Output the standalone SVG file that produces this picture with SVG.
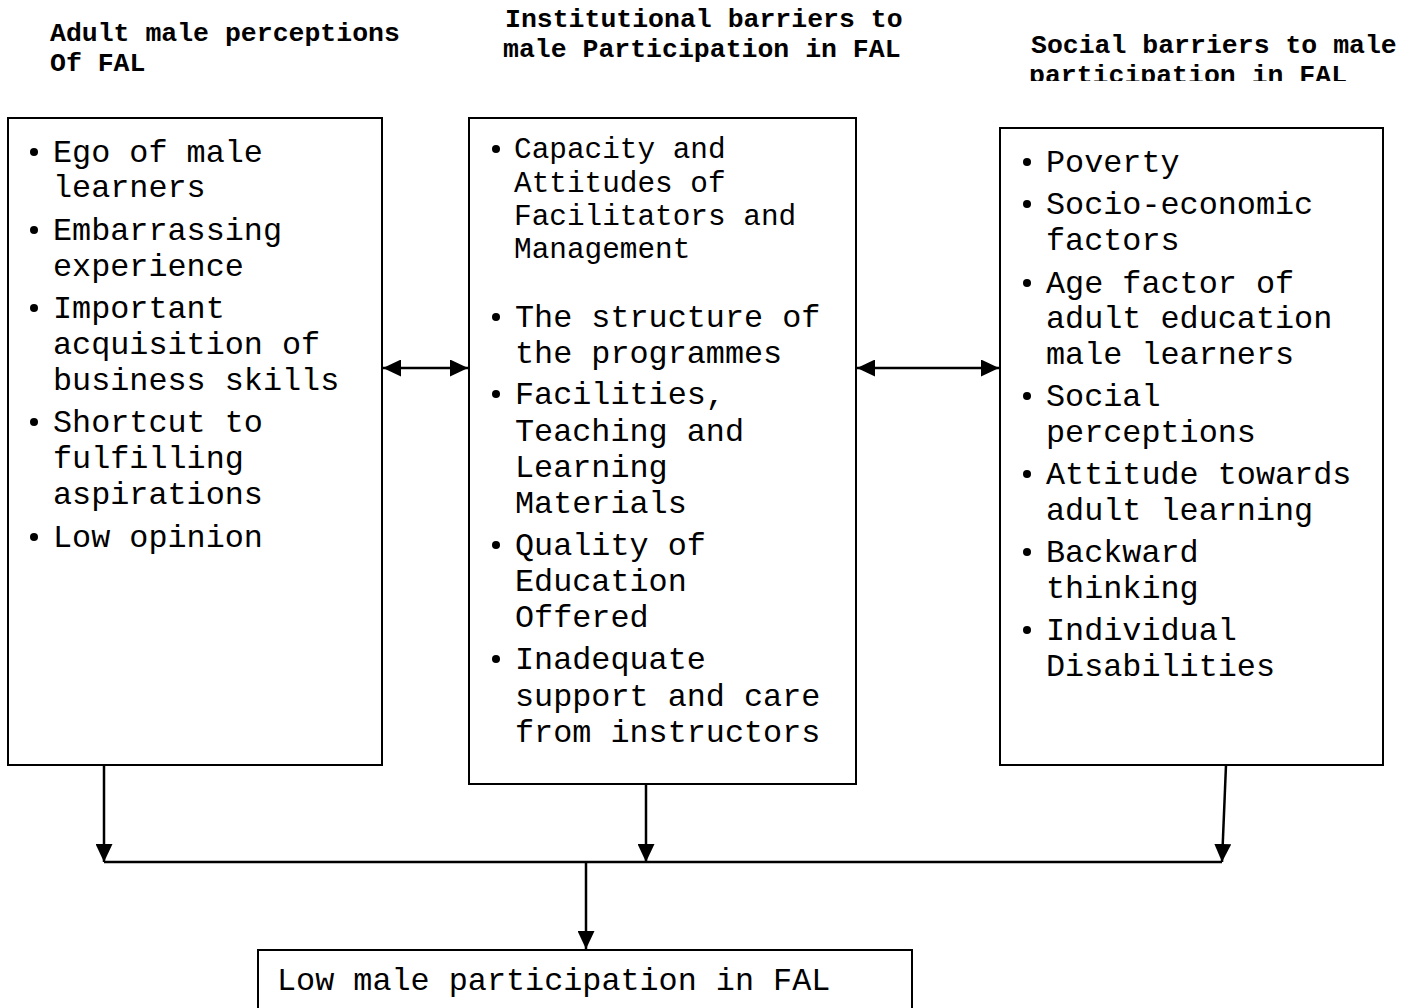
<svg xmlns="http://www.w3.org/2000/svg" width="1412" height="1008" viewBox="0 0 1412 1008">
<style>
.box{fill:#fff;stroke:#000;stroke-width:2}
.hd{font-family:"Courier New","Liberation Mono",monospace;font-weight:bold;font-size:26.5px;fill:#000}
.tx{font-family:"Courier New","Liberation Mono",monospace;font-size:31.8px;fill:#000}
.tx2{font-family:"Courier New","Liberation Mono",monospace;font-size:29.4px;fill:#000}
.bl{fill:#000}
.ln{fill:none;stroke:#000;stroke-width:2.5}
</style>
<defs>
<marker id="ah" viewBox="0 0 18 17" refX="18" refY="8.5" markerWidth="18" markerHeight="17" markerUnits="userSpaceOnUse" orient="auto-start-reverse">
<path d="M0,0 L18,8.5 L0,17 z" fill="#000"/>
</marker>
<clipPath id="clip3"><rect x="1000" y="0" width="412" height="81"/></clipPath>
</defs>
<rect width="1412" height="1008" fill="#fff"/>

<g id="header1">
<text class="hd" x="50" y="41">Adult male perceptions</text>
<text class="hd" x="50" y="71">Of FAL</text>
</g>
<g id="header2">
<text class="hd" x="505" y="27">Institutional barriers to</text>
<text class="hd" x="503" y="57">male Participation in FAL</text>
</g>
<g id="header3" clip-path="url(#clip3)">
<text class="hd" x="1031" y="53">Social barriers to male</text>
<text class="hd" x="1029" y="83">participation in FAL</text>
</g>

<g id="box1">
<rect class="box" x="8" y="118" width="374" height="647"/>
<circle class="bl" cx="34" cy="152" r="4"/>
<circle class="bl" cx="34" cy="230" r="4"/>
<circle class="bl" cx="34" cy="308" r="4"/>
<circle class="bl" cx="34" cy="422" r="4"/>
<circle class="bl" cx="34" cy="537" r="4"/>
<text class="tx">
<tspan x="53" y="162">Ego of male</tspan>
<tspan x="53" y="197">learners</tspan>
<tspan x="53" y="240">Embarrassing</tspan>
<tspan x="53" y="276">experience</tspan>
<tspan x="53" y="318">Important</tspan>
<tspan x="53" y="354">acquisition of</tspan>
<tspan x="53" y="390">business skills</tspan>
<tspan x="53" y="432">Shortcut to</tspan>
<tspan x="53" y="468">fulfilling</tspan>
<tspan x="53" y="504">aspirations</tspan>
<tspan x="53" y="547">Low opinion</tspan>
</text>
</g>

<g id="box2">
<rect class="box" x="469" y="118" width="387" height="666"/>
<circle class="bl" cx="496" cy="149" r="4"/>
<circle class="bl" cx="496" cy="317" r="4"/>
<circle class="bl" cx="496" cy="394" r="4"/>
<circle class="bl" cx="496" cy="545" r="4"/>
<circle class="bl" cx="496" cy="659" r="4"/>
<text class="tx2">
<tspan x="514" y="158">Capacity and</tspan>
<tspan x="514" y="192">Attitudes of</tspan>
<tspan x="514" y="225">Facilitators and</tspan>
<tspan x="514" y="258">Management</tspan>
</text>
<text class="tx">
<tspan x="515" y="327">The structure of</tspan>
<tspan x="515" y="363">the programmes</tspan>
<tspan x="515" y="404">Facilities,</tspan>
<tspan x="515" y="441">Teaching and</tspan>
<tspan x="515" y="477">Learning</tspan>
<tspan x="515" y="513">Materials</tspan>
<tspan x="515" y="555">Quality of</tspan>
<tspan x="515" y="591">Education</tspan>
<tspan x="515" y="627">Offered</tspan>
<tspan x="515" y="669">Inadequate</tspan>
<tspan x="515" y="706">support and care</tspan>
<tspan x="515" y="742">from instructors</tspan>
</text>
</g>

<g id="box3">
<rect class="box" x="1000" y="128" width="383" height="637"/>
<circle class="bl" cx="1027" cy="162" r="4"/>
<circle class="bl" cx="1027" cy="204" r="4"/>
<circle class="bl" cx="1027" cy="283" r="4"/>
<circle class="bl" cx="1027" cy="396" r="4"/>
<circle class="bl" cx="1027" cy="474" r="4"/>
<circle class="bl" cx="1027" cy="552" r="4"/>
<circle class="bl" cx="1027" cy="630" r="4"/>
<text class="tx">
<tspan x="1046" y="172">Poverty</tspan>
<tspan x="1046" y="214">Socio-economic</tspan>
<tspan x="1046" y="250">factors</tspan>
<tspan x="1046" y="293">Age factor of</tspan>
<tspan x="1046" y="328">adult education</tspan>
<tspan x="1046" y="364">male learners</tspan>
<tspan x="1046" y="406">Social</tspan>
<tspan x="1046" y="442">perceptions</tspan>
<tspan x="1046" y="484">Attitude towards</tspan>
<tspan x="1046" y="520">adult learning</tspan>
<tspan x="1046" y="562">Backward</tspan>
<tspan x="1046" y="598">thinking</tspan>
<tspan x="1046" y="640">Individual</tspan>
<tspan x="1046" y="676">Disabilities</tspan>
</text>
</g>

<g id="result">
<rect class="box" x="258" y="950" width="654" height="70"/>
<text class="tx" x="277" y="990">Low male participation in FAL</text>
</g>

<g id="connectors">
<line class="ln" x1="383" y1="368" x2="468" y2="368" marker-start="url(#ah)" marker-end="url(#ah)"/>
<line class="ln" x1="857" y1="368" x2="999" y2="368" marker-start="url(#ah)" marker-end="url(#ah)"/>
<line class="ln" x1="104" y1="765" x2="104" y2="862" marker-end="url(#ah)"/>
<line class="ln" x1="646" y1="784" x2="646" y2="862" marker-end="url(#ah)"/>
<line class="ln" x1="1226" y1="765" x2="1222" y2="862" marker-end="url(#ah)"/>
<line class="ln" x1="104" y1="862" x2="1222" y2="862"/>
<line class="ln" x1="586" y1="862" x2="586" y2="949" marker-end="url(#ah)"/>
</g>
</svg>
